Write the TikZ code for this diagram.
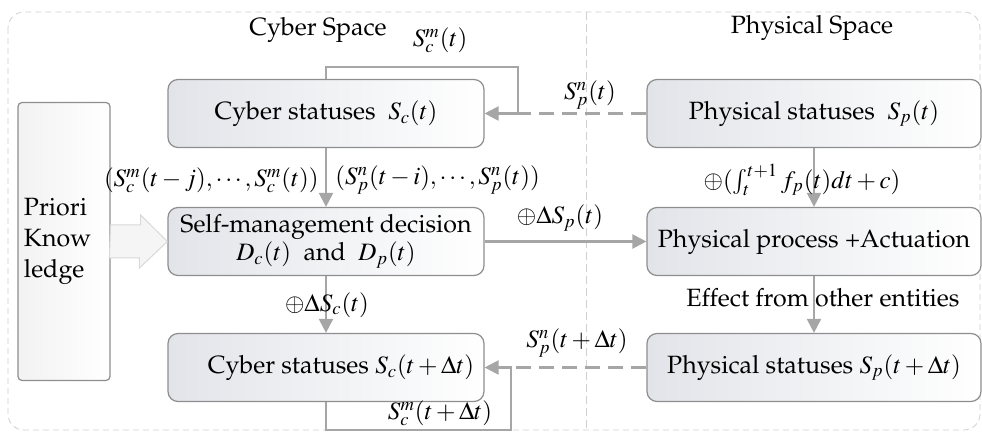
\documentclass[tikz,border=0pt]{standalone}
\usepackage[T1]{fontenc}
\usepackage{mathptmx}
\renewcommand{\rmdefault}{ppl}
\usetikzlibrary{arrows.meta, calc}
\definecolor{linegray}{HTML}{A6A6A6}
\definecolor{boxgray}{HTML}{E2E4E9}
\definecolor{edgegray}{HTML}{8E8E8E}
\definecolor{framegray}{HTML}{CFCFCF}
\tikzstyle{status} = [rectangle, rounded corners=5pt, draw=edgegray, line width=0.6pt, left color=boxgray, right color=white, minimum width=158pt, minimum height=34pt, text centered, align=center, font=\fontsize{12.5}{14}\selectfont]
\tikzstyle{prior} = [rectangle, rounded corners=2pt, draw=edgegray, line width=0.6pt, left color=gray!10, right color=white, text width=40pt, inner xsep=3pt, minimum height=139pt, align=left, font=\fontsize{12.5}{15.5}\selectfont]
\tikzstyle{arrow} = [draw=linegray, line width=1.1pt, -{Triangle[length=7pt,width=7pt]}]
\tikzstyle{dashline} = [draw=linegray, line width=1.1pt, dash pattern=on 7.5pt off 4pt]
\tikzstyle{lbl} = [font=\fontsize{12.5}{14}\selectfont, inner sep=1pt]

\begin{document}
\begin{tikzpicture}[x=0.5pt, y=-0.5pt]
\useasboundingbox (0,0) rectangle (982,432);

% frame and divider
\draw[framegray, line width=0.4pt, dash pattern=on 3pt off 2pt, rounded corners=8pt] (8,12) rectangle (980,430);
\draw[framegray, line width=0.5pt, dash pattern=on 4pt off 2pt] (586,12) -- (586,430);
\node at (318,30) (cyber) [lbl] {Cyber Space};
\node at (812,28) (phys) [lbl] {Physical Space};

% boxes
\node at (326,113.5) (cs) [status] {Cyber statuses~ $S_c(t)$};
\node at (814,113.5) (ps) [status, minimum width=167pt] {Physical statuses~ $S_p(t)$};
\node at (326,241.5) (smd) [status] {Self-management decision\\$D_c(t)$~ and~ $D_p(t)$};
\node at (814,241.5) (pp) [status, minimum width=167pt] {Physical process +Actuation};
\node at (326,367.5) (cs2) [status] {\hspace*{1.2em}Cyber statuses $S_c(t+\Delta t)$};
\node at (814,367.5) (ps2) [status, minimum width=167pt] {Physical statuses $S_p(t+\Delta t)$};
\node at (64,241.5) (priori) [prior] {Priori\\Know\\ledge};

% block arrow
\draw[draw=gray!30, fill=gray!8, line width=0.5pt] ($(priori.east)+(0,-16.5)$) -- ++(30,0) -- ++(0,-10) -- (smd.west) -- ++(-28,26.5) -- ++(0,-10) -- ++(-30,0) -- cycle;

% top loop
\coordinate (ctop) at (518,67);
\coordinate (jtop) at (518,113.5);
\draw[dashline] (ps.west) -- (jtop);
\draw[arrow] (cs.north) |- (ctop) -- (jtop) -- (cs.east);
\node at (440,40) (scm) [lbl] {$S_c^m(t)$};
\node at (590,95) (spn) [lbl] {$S_p^n(t)$};

% vertical flows
\draw[arrow] (cs.south) -- (smd.north);
\node at (321,180) (hista) [lbl, anchor=east] {$(S_c^m(t-j),\cdots,S_c^m(t))$};
\node at (333,180) (histb) [lbl, anchor=west] {$(S_p^n(t-i),\cdots,S_p^n(t))$};
\draw[arrow] (ps.south) -- (pp.north);
\node at (802,180) (integ) [lbl] {$\oplus(\int_t^{t+1}f_p(t)dt+c)$};
\draw[arrow] (smd.east) -- (pp.west);
\node at (560,218) (dsp) [lbl] {$\oplus\Delta S_p(t)$};
\draw[arrow] (smd.south) -- (cs2.north);
\node at (327,305) (dsc) [lbl] {$\oplus\Delta S_c(t)$};
\draw[arrow] (pp.south) -- (ps2.north);
\node at (823,298) (eff) [lbl] {Effect from other entities};

% bottom loop
\coordinate (cbot) at (511,430);
\coordinate (jbot) at (511,367.5);
\draw[dashline] (ps2.west) -- (jbot);
\draw[arrow] (cs2.south) |- (cbot) -- (jbot) -- (cs2.east);
\node at (577,343) (spn2) [lbl] {$S_p^n(t+\Delta t)$};
\node at (440,413) (scm2) [lbl] {$S_c^m(t+\Delta t)$};

\end{tikzpicture}
\end{document}
